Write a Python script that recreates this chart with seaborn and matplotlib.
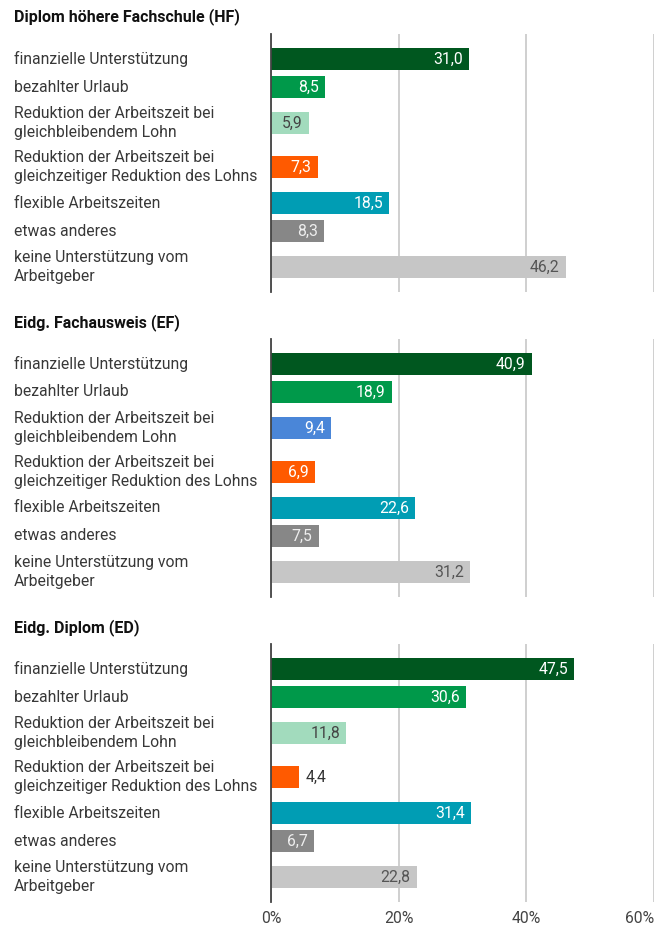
import numpy as np
import pandas as pd
import matplotlib
matplotlib.use("Agg")
import matplotlib.pyplot as plt
import matplotlib.transforms as mtransforms
import seaborn as sns

# ---- data ----
panel_titles = ["Diplom höhere Fachschule (HF)", "Eidg. Fachausweis (EF)", "Eidg. Diplom (ED)"]
categories = [
    "finanzielle Unterstützung",
    "bezahlter Urlaub",
    "Reduktion der Arbeitszeit bei\ngleichbleibendem Lohn",
    "Reduktion der Arbeitszeit bei\ngleichzeitiger Reduktion des Lohns",
    "flexible Arbeitszeiten",
    "etwas anderes",
    "keine Unterstützung vom\nArbeitgeber",
]
values_hf = [31.0, 8.5, 5.9, 7.3, 18.5, 8.3, 46.2]
values_ef = [40.9, 18.9, 9.4, 6.9, 22.6, 7.5, 31.2]
values_ed = [47.5, 30.6, 11.8, 4.4, 31.4, 6.7, 22.8]
panel_values = [values_hf, values_ef, values_ed]
x_ticks = [0, 20, 40, 60]
x_tick_labels = ["0%", "20%", "40%", "60%"]

# ---- styles ----
base_colors = ["#00571f", "#00994a", "#a2dbbd", "#ff5a00", "#009db4", "#878787", "#c6c6c6"]
ef_colors = ["#00571f", "#00994a", "#4a86d8", "#ff5a00", "#009db4", "#878787", "#c6c6c6"]
panel_colors = [base_colors, ef_colors, base_colors]
text_colors_base = ["white", "white", "#444444", "white", "white", "#eeeeee", "#555555"]
text_colors_ef = ["white", "white", "white", "white", "white", "#eeeeee", "#555555"]
panel_text_colors = [text_colors_base, text_colors_ef, text_colors_base]

sns.set_style("white")
plt.rcParams["font.family"] = ["Roboto", "DejaVu Sans"]

W, H = 665, 925
fig = plt.figure(figsize=(W / 100, H / 100), dpi=100)

# row layout in pixel-like units
single_h, double_h = 28, 44
row_h = [double_h if "\n" in c else single_h for c in categories]
top_pad = 11
pos = []
acc = top_pad
for h in row_h:
    pos.append(acc + h / 2)
    acc += h
panel_h = 258

left_px, right_px = 271, 654
panel_tops = [34, 339, 644]
title_ys = [17, 323, 628]
fs = 11.3
tw = "normal"

axes = []
for p in range(3):
    ax = fig.add_axes([left_px / W, 1 - (panel_tops[p] + panel_h) / H,
                       (right_px - left_px) / W, panel_h / H])
    axes.append(ax)
    df = pd.DataFrame({"cat": categories, "value": panel_values[p], "pos": pos})
    pal = dict(zip(categories, panel_colors[p]))
    sns.barplot(data=df, x="value", y="pos", hue="cat", palette=pal, orient="h",
                native_scale=True, dodge=False, legend=False, width=0.8,
                saturation=1, ax=ax, linewidth=0)
    ax.set_xlim(0, 60)
    ax.set_ylim(panel_h, 0)
    ax.set_xticks(x_ticks)
    ax.grid(axis="x", color="#cccccc", linewidth=1.3)
    ax.grid(axis="y", visible=False)
    ax.set_axisbelow(True)
    for s in ["top", "right", "bottom"]:
        ax.spines[s].set_visible(False)
    ax.spines["left"].set_color("#444444")
    ax.spines["left"].set_linewidth(1.3)
    ax.spines["left"].set_zorder(5)
    ax.set_yticks([])
    ax.set_ylabel("")
    ax.set_xlabel("")
    ax.tick_params(axis="x", length=0, labelsize=fs, labelcolor="#444444", pad=6.5)
    if p < 2:
        ax.set_xticklabels([])
    else:
        ax.set_xticklabels(x_tick_labels)
        ax.get_xticklabels()[-1].set_horizontalalignment("right")

    fig.text(14 / W, 1 - title_ys[p] / H, panel_titles[p], fontsize=11.5,
             fontweight="bold", color="#111111", va="center", ha="left")
    tr = mtransforms.blended_transform_factory(fig.transFigure, ax.transData)
    for c, y in zip(categories, pos):
        ax.text(14 / W, y, c, transform=tr, fontsize=fs, fontweight=tw,
                color="#383838", va="center", ha="left", linespacing=1.4)

fig.canvas.draw()
renderer = fig.canvas.get_renderer()
for p, ax in enumerate(axes):
    for i, (v, y) in enumerate(zip(panel_values[p], pos)):
        label = f"{v:.1f}".replace(".", ",")
        t = ax.annotate(label, (v, y), xytext=(-4.5, 0), textcoords="offset points",
                        ha="right", va="center", fontsize=fs, fontweight=tw,
                        color=panel_text_colors[p][i])
        bb = t.get_window_extent(renderer)
        x0 = ax.transData.transform((0, y))[0]
        if bb.x0 < x0 + 3:
            t.remove()
            ax.annotate(label, (v, y), xytext=(5, 0), textcoords="offset points",
                        ha="left", va="center", fontsize=fs, fontweight=tw,
                        color="#333333")

fig.savefig("out.png", dpi=100)
